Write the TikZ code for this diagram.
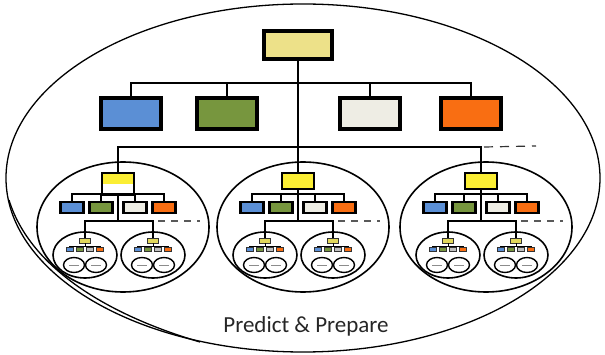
\documentclass[tikz,border=0pt]{standalone}
\usepackage{fontspec}
\setmainfont{Carlito}

\definecolor{topyel}{HTML}{EDE189}
\definecolor{gyel}{HTML}{FBEE34}
\definecolor{tyel}{HTML}{E2D85C}
\definecolor{cblue}{HTML}{5B8FD5}
\definecolor{cgreen}{HTML}{77963E}
\definecolor{cwhite}{HTML}{EEEDE4}
\definecolor{cgray}{HTML}{BFBFBF}
\definecolor{corange}{HTML}{F96E12}

% one small unit inside a group
\newcommand{\subunit}[2]{%
	\begin{scope}[shift={(#2,0)}]
		\draw[unitline] (0,255) ellipse [x radius=32pt, y radius=23pt];
		\node[tinybox, fill=tyel, minimum width=11pt, minimum height=5pt] (#1-top) at (0,240.5) {};
		\draw[tinyline] (#1-top.south) -- (0,246);
		\draw[tinyline] (-16,246) -- (16,246);
		\foreach \c/\x [count=\i] in {cblue/-15, cgreen/-5, cgray/5, corange/15}
			\node[tinybox, fill=\c] (#1-b\i) at (\x,249.5) {};
		\foreach \x in {-11,11} {
			\draw[unitline, line width=1.4pt] (\x,265) ellipse [x radius=10.5pt, y radius=7.5pt];
			\draw[black!45, line width=0.8pt] (\x-5,265) -- (\x+5,265);
		}
	\end{scope}}

% one group: trunk at x = #2
\newcommand{\orggroup}[3]{%
	\begin{scope}[shift={(#2,0)}]
		\draw[unitline] (5,227) ellipse [x radius=86pt, y radius=65pt];
		\node[gbox, #3] (#1-top) at (0,181) {};
		\foreach \c/\x [count=\i] in {cblue/-46, cgreen/-17, cwhite/17, corange/46}
			\node[gsbox, fill=\c] (#1-b\i) at (\x,207.5) {};
		\coordinate (#1-bar) at (0,194);
		\draw[link] (#1-b1.north) |- (#1-bar) -| (#1-b4.north);
		\draw[link] (#1-b2.north) -- (#1-b2.north |- #1-bar);
		\draw[link] (#1-b3.north) -- (#1-b3.north |- #1-bar);
		\subunit{#1-L}{-33}
		\subunit{#1-R}{35}
		\draw[link] (#1-top.south) -- (0,221);
		\draw[link] (#1-L-top.north) |- (0,221) -| (#1-R-top.north);
		\draw[link, gdash] (40,221) -- (82,221);
	\end{scope}}

\begin{document}
\begin{tikzpicture}[
		x=1pt, y=-1pt,
		link/.style={line width=1.2pt},
		outer/.style={line width=1.3pt},
		unitline/.style={line width=1.6pt},
		tinyline/.style={line width=0.7pt},
		topdash/.style={dash pattern=on 9pt off 7pt, black!80},
		gdash/.style={line width=1.6pt, dash pattern=on 7pt off 6pt, black!65},
		bigbox/.style={draw, line width=3.2pt, minimum width=60pt, minimum height=31pt, inner sep=0pt},
		gbox/.style={draw, line width=2.9pt, fill=gyel, minimum width=32pt, minimum height=16pt, inner sep=0pt},
		gsbox/.style={draw, line width=2.7pt, minimum width=23pt, minimum height=11pt, inner sep=0pt},
		tinybox/.style={draw=black!80, line width=0.8pt, minimum width=7pt, minimum height=3.5pt, inner sep=0pt},
		halffill/.style={fill=white, minimum height=22pt, yshift=-3pt,
			path picture={\fill[gyel] (path picture bounding box.north west) rectangle (path picture bounding box.east);}}
		]
		
		\useasboundingbox (0,0) rectangle (605,355);
		
		% outline
		\draw[outer] (303,178) ellipse [x radius=297pt, y radius=174pt];
		\draw[outer] (9,200) .. controls (30,268) and (108,315) .. (200,342);
		
		\node[bigbox, fill=topyel, minimum width=68pt, minimum height=28pt] (head) at (298,45) {};
		\foreach \c/\x [count=\i] in {cblue/131, cgreen/227, cwhite/370, corange/471}
			\node[bigbox, fill=\c] (dept\i) at (\x,113.5) {};
		
		\coordinate (bar1) at (298,83);
		\draw[link]
		(dept1.north) |- (bar1) -| (dept4.north)
		(dept2.north) -- (dept2.north |- bar1)
		(dept3.north) -- (dept3.north |- bar1);
		
		\orggroup{g1}{118}{halffill}
		\orggroup{g2}{298}{}
		\orggroup{g3}{481}{}
		
		\coordinate (bar2) at (298,147);
		\draw[link] (head.south) -- (g2-top.north);
		\draw[link] (g1-top.north) |- (bar2) -| (g3-top.north);
		\draw[link, topdash] ([xshift=3pt]g3-top.north |- bar2) -- ++(52,-1);
		
		\node[font=\fontsize{23}{27}\selectfont, text=black!85] (title) at (306,326) {Predict \& Prepare};
\end{tikzpicture}
\end{document}
